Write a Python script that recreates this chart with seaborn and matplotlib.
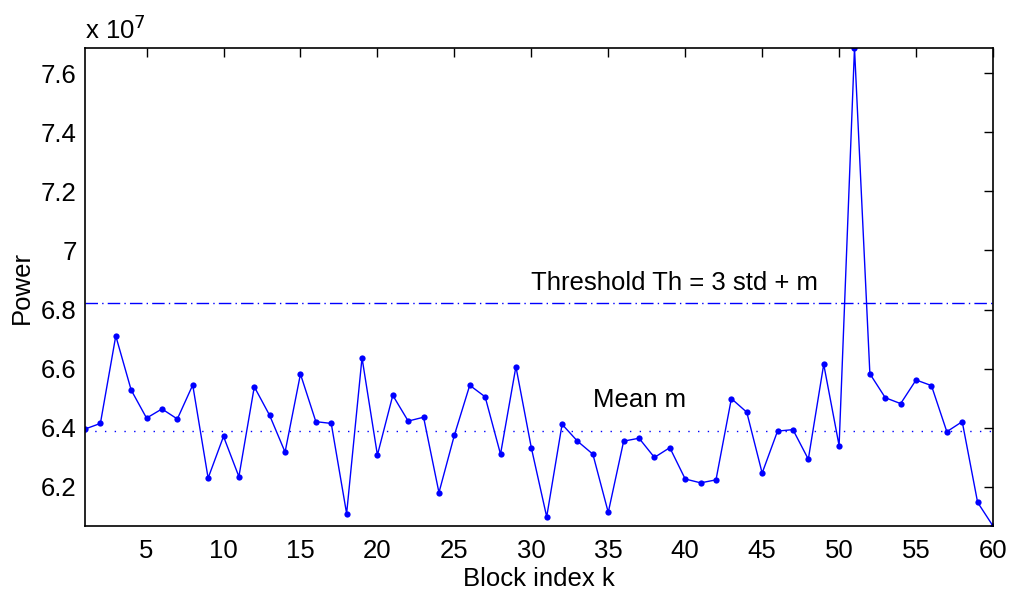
import numpy as np
import pandas as pd
import matplotlib
matplotlib.use("Agg")
import matplotlib.pyplot as plt
import matplotlib.ticker as mticker
import seaborn as sns

# Data (power in units of 1e7)
block = list(range(1, 61))
power = [6.396, 6.415, 6.711, 6.528, 6.433, 6.464, 6.430, 6.545, 6.230, 6.371,
         6.235, 6.539, 6.442, 6.318, 6.582, 6.421, 6.415, 6.110, 6.637, 6.308,
         6.510, 6.423, 6.436, 6.181, 6.375, 6.544, 6.505, 6.311, 6.607, 6.333,
         6.099, 6.412, 6.355, 6.311, 6.114, 6.355, 6.365, 6.300, 6.333, 6.227,
         6.214, 6.224, 6.499, 6.453, 6.247, 6.389, 6.394, 6.294, 6.615, 6.340,
         7.685, 6.583, 6.502, 6.482, 6.562, 6.543, 6.387, 6.421, 6.148, 6.068]
mean_m = 6.390
threshold = 6.821
xticks = [5, 10, 15, 20, 25, 30, 35, 40, 45, 50, 55, 60]
yticks = [6.2, 6.4, 6.6, 6.8, 7.0, 7.2, 7.4, 7.6]

sns.set_style("white")
plt.rcParams['font.family'] = ['Liberation Sans', 'DejaVu Sans']
plt.rcParams['text.color'] = 'black'
plt.rcParams['axes.labelcolor'] = 'black'
plt.rcParams['xtick.color'] = 'black'
plt.rcParams['ytick.color'] = 'black'
FS = 18.5

df = pd.DataFrame({"k": block, "power": power})

fig = plt.figure(figsize=(10.10, 5.89), dpi=100)
ax = fig.add_axes([85/1010, 1 - 526/589, (993-85)/1010, (526-48)/589])

sns.lineplot(data=df, x="k", y="power", ax=ax, color=(0, 0, 1), lw=1.0,
             marker="o", markersize=4.5, markeredgewidth=0, markerfacecolor=(0, 0, 1))

ax.axhline(threshold, color=(0, 0, 1), lw=1.0, dashes=(9, 3, 1, 3))
ax.axhline(mean_m, color=(0, 0, 1), lw=1.0, dashes=(1, 6))

ax.text(30.0, 6.89, "Threshold Th = 3 std + m", fontsize=FS, va="center", ha="left")
ax.text(34.0, 6.494, "Mean m", fontsize=FS, va="center", ha="left")

ax.set_xlim(1, 60)
ax.set_ylim(6.068, 7.685)
ax.set_xticks(xticks)
ax.set_yticks(yticks)
ax.yaxis.set_major_formatter(mticker.FormatStrFormatter('%g'))
ax.tick_params(direction="in", length=6.5, width=1.0, top=True, right=True,
               labelsize=FS, colors="black")
ax.tick_params(axis="x", pad=9)
ax.tick_params(axis="y", pad=6)
for s in ax.spines.values():
    s.set_color("black")
    s.set_linewidth(1.2)

ax.set_xlabel("Block index k", fontsize=FS, labelpad=3)
ax.set_ylabel("Power", fontsize=FS, labelpad=5)
fig.text(85/1010, 1 - 30/589, r"x 10$^{7}$", fontsize=FS, ha="left", va="center")

fig.savefig("out.png", dpi=100)
